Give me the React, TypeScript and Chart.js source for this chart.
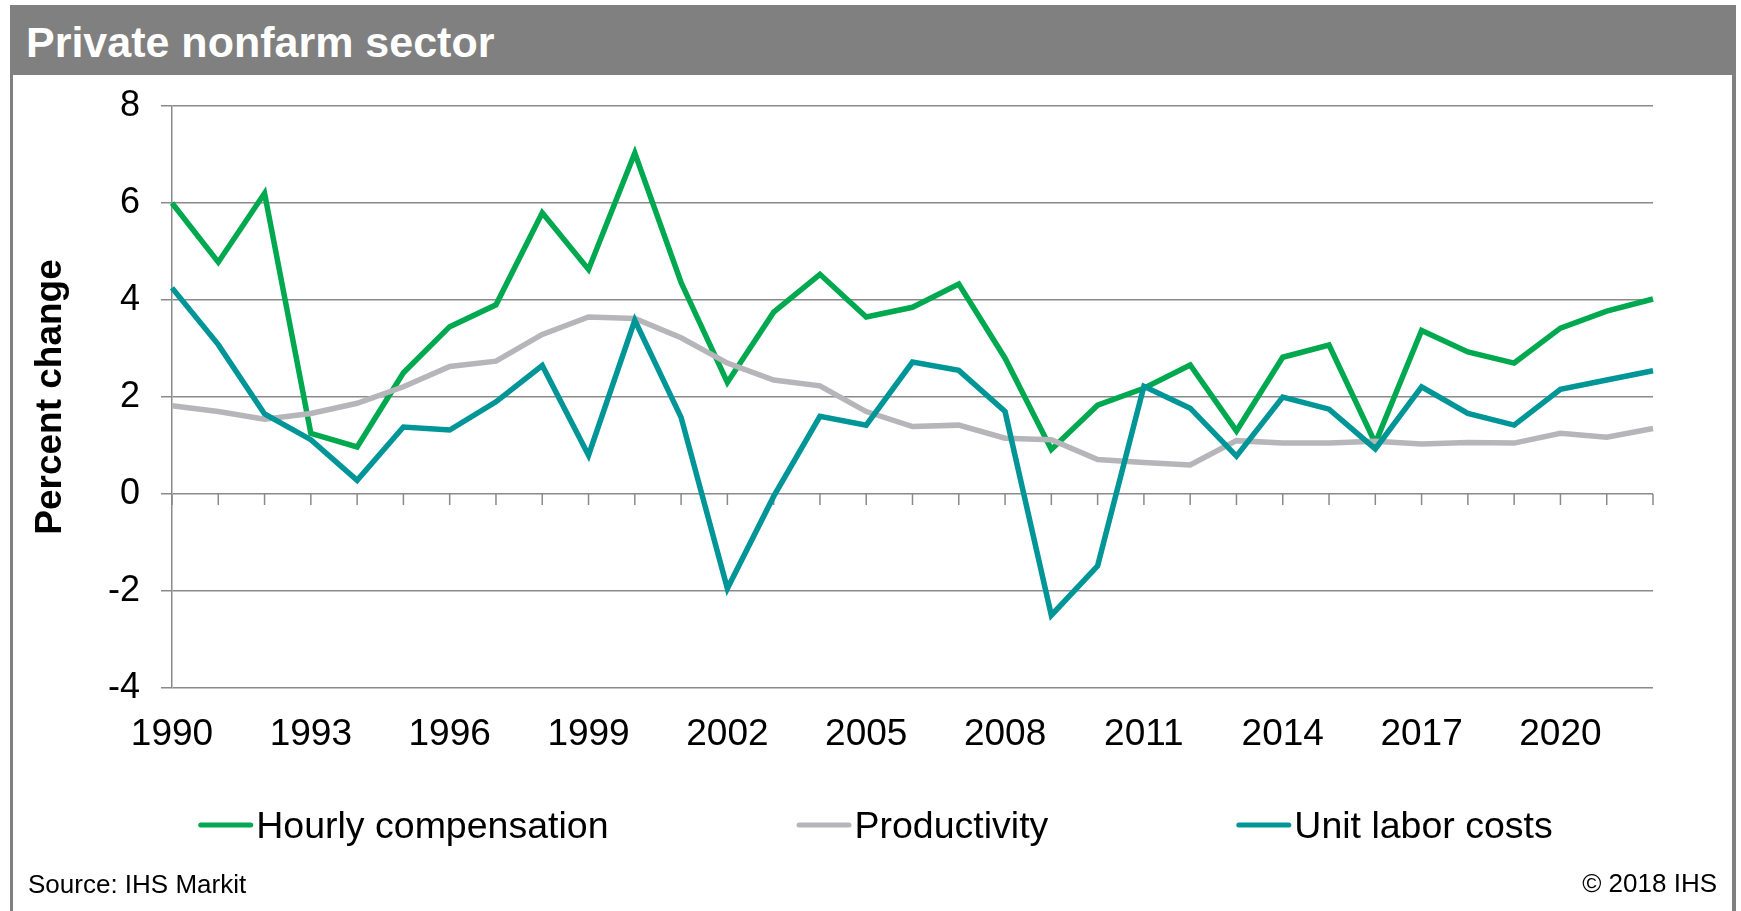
import React, { useEffect, useRef } from 'react';
import { Chart, registerables } from 'chart.js';

Chart.register(...registerables);

// ---- Data ----
const YEARS = [
  '1990', '1991', '1992', '1993', '1994', '1995', '1996', '1997', '1998', '1999',
  '2000', '2001', '2002', '2003', '2004', '2005', '2006', '2007', '2008', '2009',
  '2010', '2011', '2012', '2013', '2014', '2015', '2016', '2017', '2018', '2019',
  '2020', '2021', '2022',
];
const LABELED_YEARS = ['1990', '1993', '1996', '1999', '2002', '2005', '2008', '2011', '2014', '2017', '2020'];

const HOURLY_COMPENSATION = [
  6.0, 4.78, 6.2, 1.25, 0.97, 2.5, 3.45, 3.9, 5.8, 4.63,
  7.03, 4.36, 2.3, 3.75, 4.53, 3.65, 3.85, 4.33, 2.8, 0.92,
  1.83, 2.18, 2.66, 1.3, 2.82, 3.07, 1.05, 3.37, 2.93, 2.7,
  3.42, 3.77, 4.02,
];
const PRODUCTIVITY = [
  1.82, 1.7, 1.54, 1.66, 1.87, 2.21, 2.63, 2.74, 3.29, 3.65,
  3.62, 3.22, 2.7, 2.35, 2.23, 1.7, 1.39, 1.42, 1.15, 1.12,
  0.71, 0.65, 0.6, 1.1, 1.05, 1.05, 1.09, 1.03, 1.06, 1.05,
  1.25, 1.17, 1.35,
];
const UNIT_LABOR_COSTS = [
  4.25, 3.08, 1.65, 1.12, 0.28, 1.38, 1.32, 1.9, 2.65, 0.8,
  3.58, 1.58, -1.95, -0.05, 1.6, 1.42, 2.72, 2.55, 1.7, -2.5,
  -1.48, 2.22, 1.77, 0.78, 2.0, 1.75, 0.93, 2.21, 1.66, 1.42,
  2.16, 2.35, 2.54,
];

const Y_MIN = -4;
const Y_MAX = 8;
const Y_STEP = 2;

const TITLE = 'Private nonfarm sector';
const Y_TITLE = 'Percent change';
const SOURCE = 'Source: IHS Markit';
const COPYRIGHT = '\u00A9 2018 IHS';

// ---- Styles ----
const FONT = '"Liberation Sans", Arial, Helvetica, sans-serif';
const GRID = '#8a8a8a';
const FRAME = '#808080';
const GREEN = '#00a84f';
const GRAY = '#b6b6ba';
const TEAL = '#009596';

const CANVAS_W = 1719;
const CANVAS_H = 836;

export default function App() {
  const ref = useRef<HTMLCanvasElement>(null);

  useEffect(() => {
    document.body.style.margin = '0';
    document.body.style.overflow = 'hidden';
    const canvas = ref.current;
    if (!canvas) return;

    const zeroTicks = {
      id: 'zeroTicks',
      beforeDatasetsDraw(chart: any) {
        const { ctx } = chart;
        const xs = chart.scales.x;
        const ys = chart.scales.y;
        const y0 = ys.getPixelForValue(0);
        ctx.save();
        ctx.strokeStyle = GRID;
        ctx.lineWidth = 1.5;
        for (let i = 0; i < YEARS.length; i++) {
          const px = xs.getPixelForValue(i);
          ctx.beginPath();
          ctx.moveTo(px, y0);
          ctx.lineTo(px, y0 + 11);
          ctx.stroke();
        }
        ctx.restore();
      },
    };

    const legendNotes = {
      id: 'legendNotes',
      afterDraw(chart: any) {
        const { ctx } = chart;
        ctx.save();
        ctx.font = `37.5px ${FONT}`;
        const items = chart.data.datasets.map((d: any) => ({
          text: d.label,
          color: d.borderColor,
          w: ctx.measureText(d.label).width,
        }));
        const lineLen = 55;
        const textGap = 3;
        const itemGap = 188;
        const total =
          items.reduce((s: number, it: any) => s + lineLen + textGap + it.w, 0) +
          itemGap * (items.length - 1);
        let x = chart.width / 2 + 3 - total / 2;
        const lineY = 750;
        const textBase = 763;
        items.forEach((it: any) => {
          ctx.strokeStyle = it.color;
          ctx.lineWidth = 5;
          ctx.lineCap = 'round';
          ctx.beginPath();
          ctx.moveTo(x + 2.5, lineY);
          ctx.lineTo(x + lineLen - 2.5, lineY);
          ctx.stroke();
          ctx.fillStyle = '#000';
          ctx.textAlign = 'left';
          ctx.textBaseline = 'alphabetic';
          ctx.fillText(it.text, x + lineLen + textGap, textBase);
          x += lineLen + textGap + it.w + itemGap;
        });

        ctx.font = `26px ${FONT}`;
        ctx.fillStyle = '#000';
        ctx.textAlign = 'left';
        ctx.fillText(SOURCE, 15, 818);
        ctx.textAlign = 'right';
        ctx.fillText(COPYRIGHT, 1704, 817);
        ctx.restore();
      },
    };

    const chart = new Chart(canvas, {
      type: 'line',
      data: {
        labels: YEARS,
        datasets: [
          {
            label: 'Hourly compensation',
            data: HOURLY_COMPENSATION,
            borderColor: GREEN,
            backgroundColor: GREEN,
            borderWidth: 5.5,
            pointRadius: 0,
            tension: 0,
            order: 2,
          },
          {
            label: 'Productivity',
            data: PRODUCTIVITY,
            borderColor: GRAY,
            backgroundColor: GRAY,
            borderWidth: 5.5,
            pointRadius: 0,
            tension: 0,
            order: 1,
          },
          {
            label: 'Unit labor costs',
            data: UNIT_LABOR_COSTS,
            borderColor: TEAL,
            backgroundColor: TEAL,
            borderWidth: 5.5,
            pointRadius: 0,
            tension: 0,
            order: 0,
          },
        ],
      },
      options: {
        responsive: false,
        animation: false,
        layout: { padding: { top: 31, right: 79, left: 0, bottom: 0 } },
        plugins: {
          legend: { display: false },
          tooltip: { enabled: false },
          title: { display: false },
        },
        scales: {
          x: {
            type: 'category',
            offset: false,
            grid: { display: false },
            border: { display: false },
            ticks: {
              autoSkip: false,
              maxRotation: 0,
              minRotation: 0,
              padding: 17,
              color: '#000',
              font: { family: FONT, size: 37 },
              callback: function (this: any, value: any) {
                const lab = this.getLabelForValue(value);
                return LABELED_YEARS.includes(lab) ? lab : '';
              },
            },
            afterFit(scale: any) {
              scale.height = 223;
            },
          },
          y: {
            min: Y_MIN,
            max: Y_MAX,
            grid: {
              color: GRID,
              lineWidth: 1.5,
              drawTicks: true,
              tickLength: 11,
              tickColor: GRID,
            },
            border: { display: true, color: GRID, width: 1.5 },
            ticks: {
              stepSize: Y_STEP,
              padding: 21,
              color: '#000',
              font: { family: FONT, size: 36 },
            },
            title: {
              display: true,
              text: Y_TITLE,
              color: '#000',
              font: { family: FONT, size: 37, weight: 'bold' },
              padding: { top: 16, bottom: 0 },
            },
            afterFit(scale: any) {
              scale.width = 159;
              scale.paddingTop = 0;
              scale.paddingBottom = 0;
            },
          },
        },
      },
      plugins: [zeroTicks, legendNotes],
    } as any);

    return () => {
      chart.destroy();
    };
  }, []);

  return (
    <div
      style={{
        position: 'absolute',
        left: 10,
        top: 5,
        width: 1726,
        height: 906,
        fontFamily: FONT,
      }}
    >
      <div
        style={{
          height: 70,
          boxSizing: 'border-box',
          background: FRAME,
          color: '#fff',
          fontWeight: 'bold',
          fontSize: 43,
          paddingLeft: 16,
          paddingTop: 5,
          lineHeight: '65px',
          whiteSpace: 'nowrap',
        }}
      >
        {TITLE}
      </div>
      <div
        style={{
          width: 1726,
          height: CANVAS_H,
          boxSizing: 'border-box',
          borderLeft: `3px solid ${FRAME}`,
          borderRight: `4px solid ${FRAME}`,
          background: '#fff',
        }}
      >
        <canvas
          ref={ref}
          width={CANVAS_W}
          height={CANVAS_H}
          style={{ display: 'block', width: CANVAS_W, height: CANVAS_H }}
        />
      </div>
    </div>
  );
}
